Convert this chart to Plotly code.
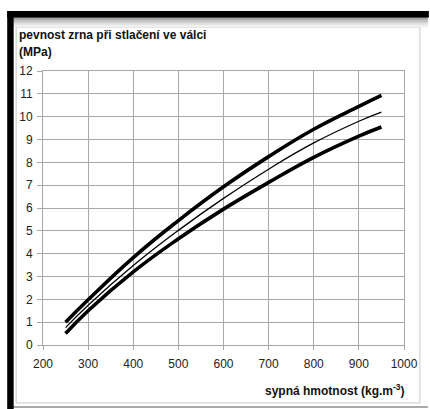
import plotly.graph_objects as go

# data
density = [250, 300, 400, 500, 600, 700, 800, 900, 950]
upper = [1.0, 1.98, 3.83, 5.45, 6.93, 8.25, 9.45, 10.45, 10.93]
middle = [0.76, 1.74, 3.48, 5.02, 6.42, 7.7, 8.85, 9.8, 10.2]
lower = [0.5, 1.5, 3.2, 4.65, 5.95, 7.12, 8.22, 9.15, 9.55]

x_ticks = [200, 300, 400, 500, 600, 700, 800, 900, 1000]
y_ticks = list(range(0, 13))

W, H = 430, 409
L, R, T, B = 43, 406, 71, 345


def px(x):
    return (x - L) / (R - L)


def py(y):
    return (B - y) / (B - T)


fig = go.Figure()
for vals, w in [(upper, 3.6), (middle, 1.3), (lower, 3.6)]:
    fig.add_trace(go.Scatter(x=density, y=vals, mode="lines",
                             line=dict(color="black", width=w, shape="spline", smoothing=1.3),
                             showlegend=False, hoverinfo="skip"))

shapes = []
# panel border
shapes.append(dict(type="rect", xref="paper", yref="paper", x0=px(16), x1=px(422), y0=py(27), y1=py(403),
                   line=dict(color="#c8c8c8", width=1), fillcolor="white", layer="below"))
# gray gradient below top band
grads = ["#8a8a8a", "#a8a8a8", "#c0c0c0", "#d4d4d4", "#e4e4e4", "#f0f0f0"]
for i, c in enumerate(grads):
    shapes.append(dict(type="rect", xref="paper", yref="paper", x0=px(13), x1=px(430),
                       y0=py(17 + i * 1.7), y1=py(17 + (i + 1) * 1.7), line=dict(width=0), fillcolor=c, layer="below"))
# black top band
shapes.append(dict(type="rect", xref="paper", yref="paper", x0=px(7), x1=px(431), y0=py(11), y1=py(17.5),
                   line=dict(width=0), fillcolor="black", layer="above"))
# black left band
shapes.append(dict(type="rect", xref="paper", yref="paper", x0=px(7), x1=px(13.5), y0=py(11), y1=py(410),
                   line=dict(width=0), fillcolor="black", layer="above"))
# bottom line
shapes.append(dict(type="line", xref="paper", yref="paper", x0=px(13), x1=px(430), y0=py(407), y1=py(407),
                   line=dict(color="#8c8c8c", width=1.5), layer="below"))

font = "Liberation Sans, Arial, Helvetica, sans-serif"
annotations = [
    dict(text="<b>pevnost zrna při stlačení ve válci</b>", xref="paper", yref="paper",
         x=px(17), y=py(35), xanchor="left", yanchor="middle", showarrow=False,
         font=dict(size=12, color="#111", family=font)),
    dict(text="<b>(MPa)</b>", xref="paper", yref="paper",
         x=px(17), y=py(52), xanchor="left", yanchor="middle", showarrow=False,
         font=dict(size=12, color="#111", family=font)),
    dict(text="<b>sypná hmotnost (kg.m<sup>-3</sup>)</b>", xref="paper", yref="paper",
         x=px(408), y=py(390), xanchor="right", yanchor="middle", showarrow=False,
         font=dict(size=12, color="#111", family=font)),
]

fig.update_layout(
    width=W, height=H,
    margin=dict(l=L, r=W - R, t=T, b=H - B, pad=0),
    paper_bgcolor="white", plot_bgcolor="white",
    shapes=shapes, annotations=annotations,
    font=dict(family=font, size=12, color="#222"),
    xaxis=dict(range=[200, 1000], tickvals=x_ticks, ticktext=[str(v) for v in x_ticks],
               showgrid=True, gridcolor="#a8a8a8", gridwidth=1, zeroline=False,
               showline=True, linecolor="#a8a8a8", linewidth=1, mirror=True,
               ticks="outside", ticklen=4, tickcolor="#a8a8a8", ticklabelstandoff=4,
               fixedrange=True),
    yaxis=dict(range=[0, 12], tickvals=y_ticks, ticktext=[str(v) for v in y_ticks],
               showgrid=True, gridcolor="#a8a8a8", gridwidth=1, zeroline=False,
               showline=True, linecolor="#a8a8a8", linewidth=1, mirror=True,
               ticks="outside", ticklen=5, tickcolor="#a8a8a8", ticklabelstandoff=2,
               fixedrange=True),
)

fig.write_html("out.html", config={"displayModeBar": False},
               post_script="document.body.style.margin='0';document.body.style.overflow='hidden';")
